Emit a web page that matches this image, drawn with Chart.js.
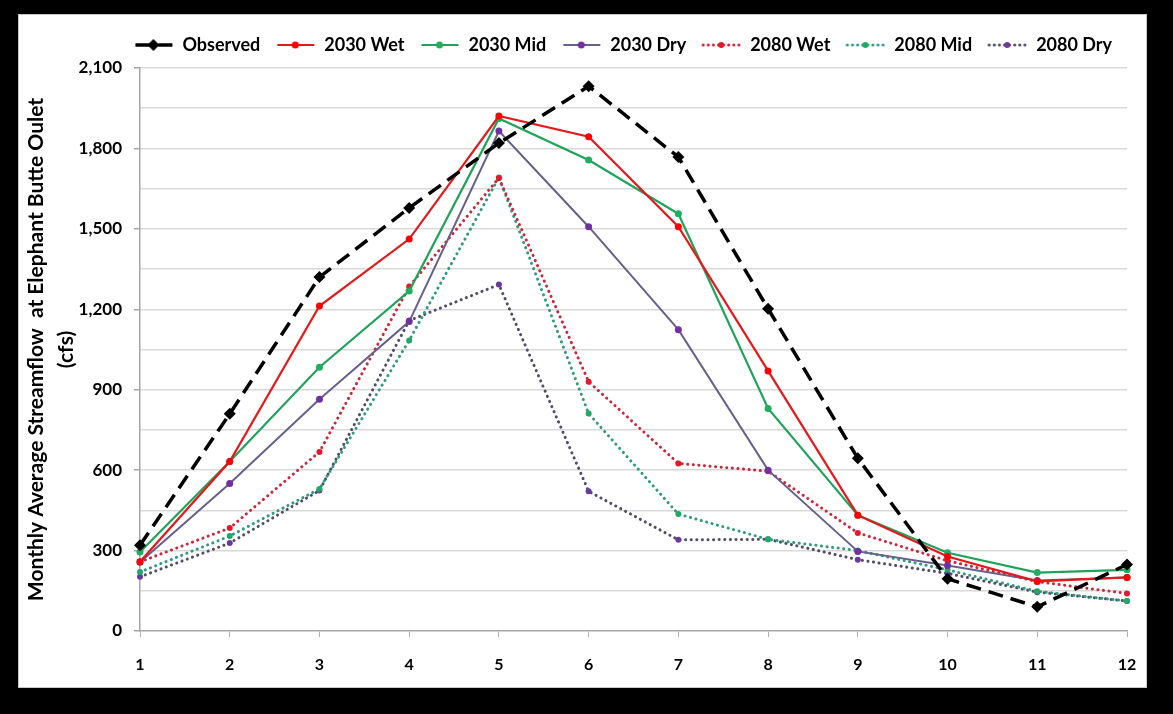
<!DOCTYPE html>
<html>
<head>
<meta charset="utf-8">
<title>Monthly Average Streamflow at Elephant Butte Outlet</title>
<script src="https://cdn.jsdelivr.net/npm/chart.js@4.4.1/dist/chart.umd.min.js"></script>
<style>
  html, body { margin: 0; padding: 0; background: #000; }
  #frame {
    position: absolute; left: 18px; top: 14px;
    width: 1127px; height: 672px;
    background: #fff; border: 1px solid #c8c8c8;
  }
  canvas { display: block; }
</style>
</head>
<body>
<div id="frame"><canvas id="flow-chart" width="1127" height="672"></canvas></div>
<script>
// ===== DATA =====
const months = ['1', '2', '3', '4', '5', '6', '7', '8', '9', '10', '11', '12'];

const observed = [320, 810, 1320, 1578, 1820, 2032, 1768, 1202, 644, 195, 90, 248];
const wet2030  = [258, 632, 1212, 1462, 1921, 1844, 1508, 970, 432, 278, 185, 200];
const mid2030  = [295, 632, 984, 1268, 1912, 1757, 1556, 830, 432, 292, 218, 228];
const dry2030  = [256, 550, 864, 1154, 1865, 1508, 1124, 600, 297, 244, 188, 200];
const wet2080  = [258, 384, 668, 1285, 1690, 930, 625, 596, 366, 262, 184, 140];
const mid2080  = [220, 354, 530, 1084, 1692, 811, 436, 342, 300, 228, 148, 112];
const dry2080  = [202, 328, 524, 1158, 1292, 521, 340, 342, 266, 215, 145, 112];

const yTitle = ['Monthly Average Streamflow  at Elephant Butte Oulet', '(cfs)'];

const FONT = 'Lato';
const DOTS = [0.1, 5.5];
const DASH = [15, 8];

// ===== LEGEND ICONS (line sample + marker) =====
function legendIcon(s) {
  const c = document.createElement('canvas');
  c.width = 40; c.height = 14;
  const g = c.getContext('2d');
  g.strokeStyle = s.line;
  g.lineWidth = s.width;
  g.setLineDash(s.dash === DOTS ? [0.1, 5] : s.dash);
  g.lineCap = s.dash === DOTS ? 'round' : 'butt';
  g.beginPath(); g.moveTo(2, 7); g.lineTo(39, 7); g.stroke();
  g.setLineDash([]);
  g.fillStyle = s.marker;
  g.beginPath();
  if (s.point === 'rectRot') {
    g.moveTo(20, 1); g.lineTo(26, 7); g.lineTo(20, 13); g.lineTo(14, 7);
  } else {
    g.arc(20, 7, s.radius, 0, Math.PI * 2);
  }
  g.fill();
  return c;
}

const series = [
  { label: 'Observed', data: observed, line: '#000000', marker: '#000000', width: 3.5, dash: DASH, point: 'rectRot', radius: 6 },
  { label: '2030 Wet', data: wet2030, line: '#e3191c', marker: '#ff0000', width: 2.2, dash: [], point: 'circle', radius: 3.5 },
  { label: '2030 Mid', data: mid2030, line: '#1fa35a', marker: '#1fae5f', width: 2.2, dash: [], point: 'circle', radius: 3.5 },
  { label: '2030 Dry', data: dry2030, line: '#67608a', marker: '#7030a0', width: 2, dash: [], point: 'circle', radius: 3.5 },
  { label: '2080 Wet', data: wet2080, line: '#c8283c', marker: '#e01a2a', width: 3, dash: DOTS, point: 'circle', radius: 3 },
  { label: '2080 Mid', data: mid2080, line: '#2f9a7c', marker: '#20a868', width: 3, dash: DOTS, point: 'circle', radius: 3 },
  { label: '2080 Dry', data: dry2080, line: '#4f4d68', marker: '#6a3a9a', width: 3, dash: DOTS, point: 'circle', radius: 3 },
];

const icons = series.map(legendIcon);

// legend gets a little extra room below the row
const legendRoom = {
  id: 'legendRoom',
  afterInit(chart) {
    const lg = chart.legend;
    if (!lg) return;
    const fit = lg.fit;
    lg.fit = function () { fit.call(this); this.height += 4; };
  }
};

// ===== CHART =====
const ctx = document.getElementById('flow-chart').getContext('2d');
new Chart(ctx, {
  type: 'line',
  data: {
    labels: months,
    datasets: series.map(s => ({
      label: s.label,
      data: s.data,
      borderColor: s.line,
      borderWidth: s.width,
      borderDash: s.dash,
      borderCapStyle: s.dash === DOTS ? 'round' : 'butt',
      pointStyle: s.point,
      pointRadius: s.radius,
      pointBackgroundColor: s.marker,
      pointBorderColor: s.marker,
      pointBorderWidth: 0,
      tension: 0,
      fill: false,
    })),
  },
  options: {
    responsive: false,
    animation: false,
    layout: { padding: { top: 6, right: 19, bottom: 0, left: 0 } },
    plugins: {
      tooltip: { enabled: false },
      legend: {
        position: 'top',
        align: 'end',
        labels: {
          color: '#000',
          font: { family: FONT, size: 18, weight: 'bold' },
          usePointStyle: true,
          pointStyleWidth: 40,
          padding: 15,
          generateLabels: chart => series.map((s, i) => ({
            text: s.label,
            pointStyle: icons[i],
            datasetIndex: i,
            fontColor: '#000',
            lineWidth: 0,
            strokeStyle: 'transparent',
            fillStyle: 'transparent',
          })),
        },
      },
    },
    scales: {
      x: {
        offset: false,
        afterFit: scale => {
          scale.height = 56;
          scale.paddingLeft = 0;
          scale.paddingRight = 8;
        },
        grid: { drawOnChartArea: false, drawTicks: true, tickLength: 6, tickColor: '#b0b0b0' },
        border: { color: '#a6a6a6', width: 1.5 },
        ticks: { color: '#000', padding: 18, font: { family: FONT, size: 16, weight: 'bold' }, maxRotation: 0 },
      },
      y: {
        min: 0,
        max: 2100,
        afterFit: scale => { scale.width = 121; },
        border: { color: '#a6a6a6', width: 1.5 },
        grid: {
          color: c => (c.tick && c.tick.value === 0 ? 'rgba(0,0,0,0)' : '#d9d9d9'),
          lineWidth: 1.5,
          tickLength: 6,
          tickColor: c => (c.tick && c.tick.value % 300 === 0 ? '#a6a6a6' : 'rgba(0,0,0,0)'),
        },
        ticks: {
          stepSize: 150,
          color: '#000',
          padding: 12,
          font: { family: FONT, size: 17, weight: 'bold' },
          callback: v => (v % 300 === 0 ? v.toLocaleString('en-US') : ''),
        },
        title: {
          display: true,
          text: yTitle,
          color: '#000',
          font: { family: FONT, size: 21, weight: 'bold', lineHeight: 1.45 },
          padding: { top: 2, bottom: 0 },
        },
      },
    },
  },
  plugins: [legendRoom],
});
</script>
</body>
</html>
